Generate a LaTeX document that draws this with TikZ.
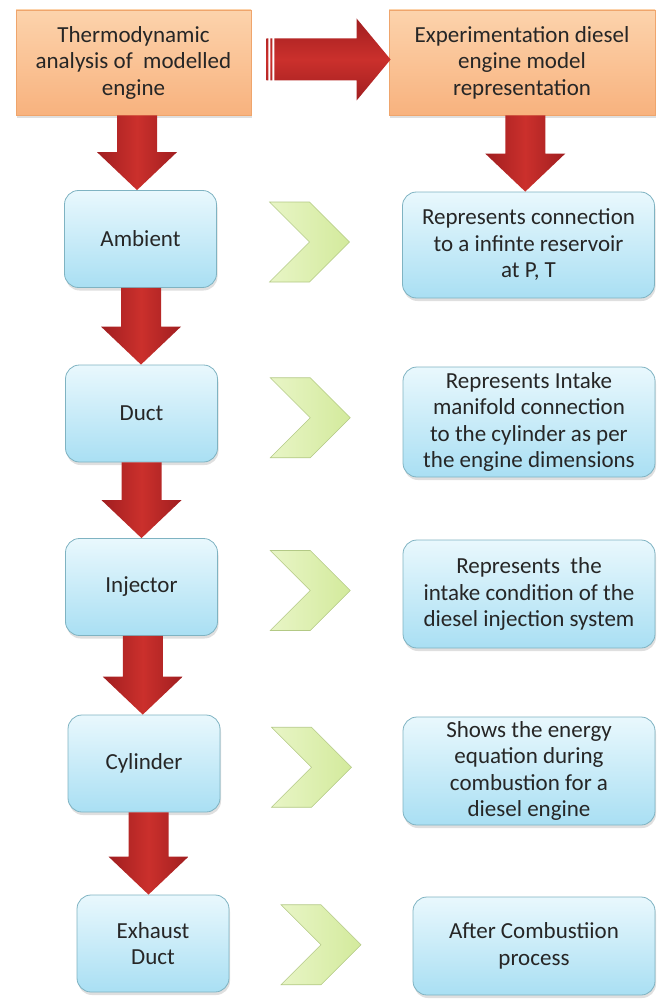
\documentclass[tikz,border=0pt]{standalone}
\usepackage{fontspec}
\setmainfont{Carlito}
\usepackage{xcolor}
\usetikzlibrary{shadows, calc}

\definecolor{boxtop}{HTML}{E9F8FD}
\definecolor{boxbot}{HTML}{A9DFF3}
\definecolor{boxedge}{HTML}{7FB3C2}
\definecolor{orangetop}{HTML}{FCD3AC}
\definecolor{orangebot}{HTML}{F8B27E}
\definecolor{orangeedge}{HTML}{EFA56C}
\definecolor{arrowred}{HTML}{CB302C}
\definecolor{arrowdark}{HTML}{A01E20}
\definecolor{chevtop}{HTML}{E8F5C6}
\definecolor{chevbot}{HTML}{D3EA9C}
\definecolor{chevedge}{HTML}{B3C985}
\definecolor{textgray}{HTML}{262626}

% block arrow pointing down, from the bottom of one box to the top of the next
\newcommand{\bigdown}[2]{%
  \shade[redarrow] let \p1=(#1.south), \p2=(#2.north), \n1={(\x1+\x2)/2} in
    (\n1-20pt,\y1) -- (\n1+20pt,\y1) -- (\n1+20pt,\y2+38pt) -- (\n1+40pt,\y2+38pt)
    -- (\n1,\y2) -- (\n1-40pt,\y2+38pt) -- (\n1-20pt,\y2+38pt) -- cycle;}

% striped block arrow pointing right
\newcommand{\bigright}[2]{%
  \shade[redarrow, top color=arrowdark, bottom color=arrowdark, middle color=arrowred]
    let \p1=(#1.east), \p2=(#2.west) in
    (\x1+23pt,\y1+24pt) -- (\x2-32pt,\y1+24pt) -- (\x2-32pt,\y1+44pt) -- (\x2+2pt,\y1+3pt)
    -- (\x2-32pt,\y1-38pt) -- (\x2-32pt,\y1-18pt) -- (\x1+23pt,\y1-18pt) -- cycle
    (\x1+15pt,\y1+24pt) rectangle (\x1+17pt,\y1-18pt)
    (\x1+19pt,\y1+24pt) rectangle (\x1+21pt,\y1-18pt);}

% green chevron between a step and its description
\newcommand{\greenchev}[2]{%
  \shade[chev] let \p1=(#1.east), \p2=(#2.west), \n1={(\x1+\x2)/2}, \n2={(\y1+\y2)/2} in
    (\n1-40pt,\n2+40pt) -- (\n1,\n2+40pt) -- (\n1+40pt,\n2) -- (\n1,\n2-40pt)
    -- (\n1-40pt,\n2-40pt) -- (\n1,\n2) -- cycle;
  \draw[chevedge, line width=0.6pt] let \p1=(#1.east), \p2=(#2.west), \n1={(\x1+\x2)/2}, \n2={(\y1+\y2)/2} in
    (\n1-40pt,\n2+40pt) -- (\n1,\n2+40pt) -- (\n1+40pt,\n2) -- (\n1,\n2-40pt)
    -- (\n1-40pt,\n2-40pt) -- (\n1,\n2) -- cycle;}

\begin{document}
\begin{tikzpicture}[
    x=1pt, y=-1pt,
    every node/.style={font=\fontsize{23}{26.5}\selectfont, text=textgray, align=center, inner sep=0pt},
    topbox/.style={draw=orangeedge, line width=0.8pt, top color=orangetop, bottom color=orangebot,
      drop shadow={shadow xshift=1pt, shadow yshift=-3pt, opacity=0.25}},
    stepbox/.style={draw=boxedge, line width=0.8pt, rounded corners=14pt, top color=boxtop, bottom color=boxbot,
      minimum width=152, minimum height=97,
      drop shadow={shadow xshift=1pt, shadow yshift=-3pt, opacity=0.25}},
    descbox/.style={stepbox, minimum width=252},
    redarrow/.style={left color=arrowdark, right color=arrowdark, middle color=arrowred},
    chev/.style={left color=chevtop, right color=chevbot}
  ]
  \useasboundingbox (0,0) rectangle (657,1003);

  % top row
  \node[topbox, minimum width=235, minimum height=105] (thermo) at (133.5,62.5)
    {Thermodynamic\\analysis of~ modelled\\engine};
  \node[topbox, minimum width=266, minimum height=105] (expt) at (522,62.5)
    {Experimentation diesel\\engine model\\representation};

  % steps
  \node[stepbox] (ambient) at (140.5,239) {Ambient};
  \node[stepbox] (duct) at (141.5,413.5) {Duct};
  \node[stepbox] (injector) at (141.5,587) {Injector};
  \node[stepbox] (cylinder) at (144,763.5) {Cylinder};
  \node[stepbox] (exhaust) at (153,943.5) {Exhaust\\Duct};

  % descriptions
  \node[descbox, minimum height=106] (desc1) at (528.5,245)
    {Represents connection\\to a infinte reservoir\\at P, T};
  \node[descbox, minimum height=110] (desc2) at (529,422)
    {Represents Intake\\manifold connection\\to the cylinder as per\\the engine dimensions};
  \node[descbox, minimum height=108] (desc3) at (529,594)
    {Represents~ the\\intake condition of the\\diesel injection system};
  \node[descbox, minimum height=108] (desc4) at (529,771)
    {Shows the energy\\equation during\\combustion for a\\diesel engine};
  \node[descbox, minimum width=242, minimum height=98] (desc5) at (534,946)
    {After Combustiion\\process};

  % arrows
  \bigright{thermo}{expt}
  \bigdown{thermo}{ambient}
  \bigdown{expt}{desc1}
  \bigdown{ambient}{duct}
  \bigdown{duct}{injector}
  \bigdown{injector}{cylinder}
  \bigdown{cylinder}{exhaust}

  \greenchev{ambient}{desc1}
  \greenchev{duct}{desc2}
  \greenchev{injector}{desc3}
  \greenchev{cylinder}{desc4}
  \greenchev{exhaust}{desc5}
\end{tikzpicture}
\end{document}
